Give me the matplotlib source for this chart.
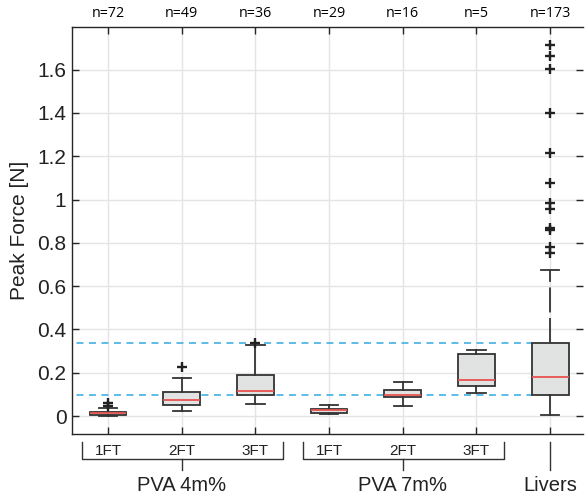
import matplotlib
matplotlib.use("Agg")
import matplotlib.pyplot as plt
import matplotlib.transforms as mtransforms

# box statistics
groups = ["1FT", "2FT", "3FT", "1FT", "2FT", "3FT", "Livers"]
counts = [72, 49, 36, 29, 16, 5, 173]
medians = [0.014, 0.072, 0.115, 0.026, 0.098, 0.165, 0.180]
q1s = [0.006, 0.051, 0.097, 0.014, 0.086, 0.139, 0.096]
q3s = [0.020, 0.111, 0.189, 0.034, 0.120, 0.288, 0.337]
whis_lo = [0.002, 0.022, 0.054, 0.008, 0.048, 0.106, 0.005]
whis_hi = [0.038, 0.175, 0.328, 0.052, 0.158, 0.305, 0.674]
fliers = [
    [0.059, 0.046],
    [0.226],
    [0.339],
    [],
    [],
    [],
    [1.714, 1.664, 1.601, 1.401, 1.216, 1.078, 0.982, 0.956,
     0.867, 0.859, 0.779, 0.754],
]
yticks = [0, 0.2, 0.4, 0.6, 0.8, 1.0, 1.2, 1.4, 1.6]
ytick_labels = ["0", "0.2", "0.4", "0.6", "0.8", "1", "1.2", "1.4", "1.6"]
families = ["PVA 4m%", "PVA 7m%", "Livers"]

plt.rcParams["font.family"] = ["Liberation Sans", "DejaVu Sans"]
plt.rcParams["lines.scale_dashes"] = False

fig = plt.figure(figsize=(5.85, 4.96), dpi=100)
ax = fig.add_axes([0.123, 0.125, 0.874, 0.8205])

positions = list(range(1, len(groups) + 1))
stats = []
for i in range(len(groups)):
    stats.append(dict(med=medians[i], q1=q1s[i], q3=q3s[i],
                      whislo=whis_lo[i], whishi=whis_hi[i], fliers=fliers[i]))

edge = "#333333"
bp = ax.bxp(stats, positions=positions, widths=0.5, capwidths=0.25,
            patch_artist=True, showfliers=True,
            boxprops=dict(facecolor="#e1e2e2", edgecolor=edge, linewidth=1.3),
            medianprops=dict(color="#e8524f", linewidth=1.3),
            whiskerprops=dict(color=edge, linewidth=1.3),
            capprops=dict(color=edge, linewidth=1.3),
            flierprops=dict(marker="+", markeredgecolor="#222222",
                            markersize=7, markeredgewidth=1.7))
for art in bp["boxes"] + bp["medians"] + bp["whiskers"] + bp["caps"] + bp["fliers"]:
    art.set_zorder(3)
# long livers whisker is dashed
bp["whiskers"][-1].set_dashes([18, 4])

# reference lines at the livers quartiles
ax.hlines([q1s[-1], q3s[-1]], 0.4, positions[-1] - 0.25,
          colors="#3fb0e3", linestyles=(0, (5, 4)), linewidth=1.2, zorder=2)

ax.set_xlim(0.51, 7.45)
ax.set_ylim(-0.083, 1.797)
ax.set_yticks(yticks)
ax.set_yticklabels(ytick_labels)
ax.set_xticks(positions)
ax.set_xticklabels([])
ax.grid(True, color="#e4e4e4", linewidth=1.0, zorder=0)
ax.set_axisbelow(True)
ax.tick_params(direction="in", length=5, width=1, color="#262626",
               labelcolor="#222222", top=True, right=True, labelsize=15, pad=4)
for s in ["left", "top", "bottom"]:
    ax.spines[s].set_color("#262626")
    ax.spines[s].set_linewidth(1.0)
ax.spines["right"].set_visible(False)
ax.set_ylabel("Peak Force [N]", fontsize=15, labelpad=6, color="#222222")

trans = mtransforms.blended_transform_factory(ax.transData, ax.transAxes)

# counts above the plot
for p, n in zip(positions, counts):
    ax.text(p, 1.015, f"n={n}", transform=trans, ha="center", va="bottom",
            fontsize=10.3, family=["Open Sans", "DejaVu Sans"])

# group labels and brackets below the plot
for p, g in zip(positions[:6], groups[:6]):
    ax.text(p, -0.041, g, transform=trans, ha="center", va="center",
            fontsize=11, color="#222222")

line_kw = dict(color="#333333", linewidth=1.0, transform=trans, clip_on=False)
for c, fam in zip([2, 5], families[:2]):
    lo, hi = c - 1.36, c + 1.38
    ax.plot([lo, lo, hi, hi], [-0.0197, -0.0614, -0.0614, -0.0197], **line_kw)
    ax.plot([c, c], [-0.0614, -0.0885], **line_kw)
    ax.text(c, -0.127, fam, transform=trans, ha="center", va="center",
            fontsize=14.5, color="#222222")
ax.plot([7, 7], [-0.0197, -0.0885], **line_kw)
ax.text(7, -0.127, families[2], transform=trans, ha="center", va="center",
        fontsize=14.5, color="#222222")

fig.savefig("out.png", dpi=100)
